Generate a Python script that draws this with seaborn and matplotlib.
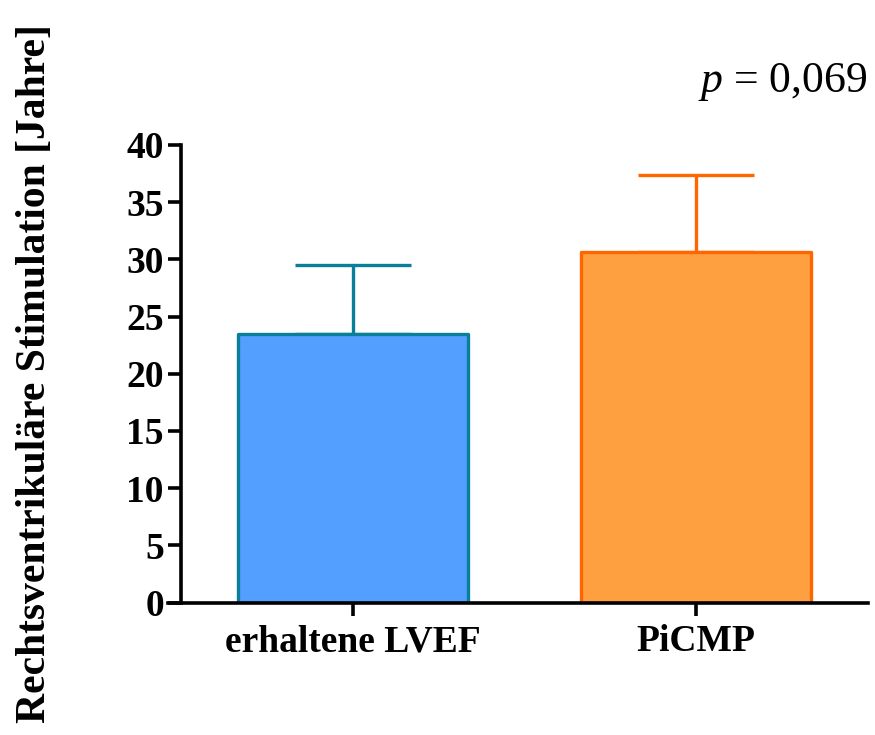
import matplotlib
matplotlib.use("Agg")
import matplotlib.pyplot as plt
import seaborn as sns
import pandas as pd

# Group means and standard deviations (years of right-ventricular pacing)
groups = ["erhaltene LVEF", "PiCMP"]
means = [23.5, 30.6]
sds = [6.0, 6.8]
fill_colors = ["#539FFF", "#FFA040"]
edge_colors = ["#0A7F99", "#FF6600"]
y_ticks = [0, 5, 10, 15, 20, 25, 30, 35, 40]
p_text = "$\\mathit{p}$ = 0,069"

sns.set_theme(style="ticks")
plt.rcParams["font.family"] = ["Liberation Serif", "DejaVu Serif"]
plt.rcParams["mathtext.fontset"] = "custom"
plt.rcParams["mathtext.it"] = "Liberation Serif:italic"
plt.rcParams["mathtext.rm"] = "Liberation Serif"
plt.rcParams["text.color"] = "black"
plt.rcParams["axes.labelcolor"] = "black"
plt.rcParams["xtick.color"] = "black"
plt.rcParams["ytick.color"] = "black"

df = pd.DataFrame({"Gruppe": groups, "Jahre": means})

fig = plt.figure(figsize=(8.75, 7.35), dpi=100)
ax = fig.add_axes([0.207, 0.180, 0.785, 0.623])

# upper-only SD whiskers, drawn beneath the bars
for i, (m, s, ec) in enumerate(zip(means, sds, edge_colors)):
    eb = ax.errorbar(i, m, yerr=[[0], [s]], fmt="none", ecolor=ec,
                     elinewidth=2.4, capsize=42, capthick=2.4, zorder=1)
    for ln in eb.lines[2]:
        ln.set_capstyle("round")

sns.barplot(data=df, x="Gruppe", y="Jahre", hue="Gruppe",
            palette=fill_colors, saturation=1, errorbar=None, width=0.67,
            legend=False, ax=ax, zorder=2)
for patch, ec in zip(ax.patches, edge_colors):
    patch.set_edgecolor(ec)
    patch.set_linewidth(2.4)
    patch.set_joinstyle("round")

ax.set_xlim(-0.5, 1.5)
ax.set_ylim(0, 40)
ax.set_yticks(y_ticks)
ax.set_xlabel("")
ax.set_ylabel("Rechtsventrikuläre Stimulation [Jahre]", fontsize=30,
              fontweight="bold", labelpad=52)

sns.despine(ax=ax)
for side in ("left", "bottom"):
    ax.spines[side].set_linewidth(2.6)
    ax.spines[side].set_color("black")
ax.spines["left"].set_bounds(0, 40)
ax.spines["bottom"].set_bounds(-0.538, 1.5)

ax.tick_params(axis="both", width=2.6, length=9.5, color="black",
               labelsize=27, pad=3)
ax.tick_params(axis="x", pad=6)
for lab in ax.get_xticklabels() + ax.get_yticklabels():
    lab.set_fontweight("bold")

fig.text(0.992, 0.888, p_text, ha="right", va="center", fontsize=31.5)

fig.savefig("out.png", dpi=100)
